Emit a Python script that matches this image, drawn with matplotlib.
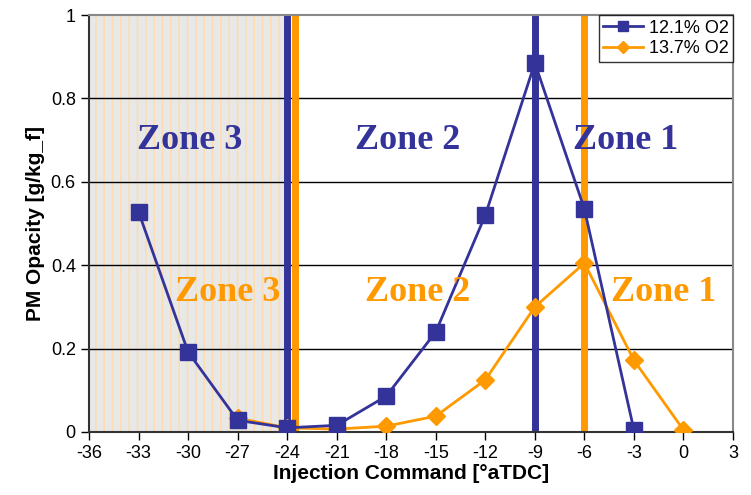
import matplotlib
matplotlib.use("Agg")
import matplotlib.pyplot as plt
from matplotlib import font_manager

# Données
inj_121 = [-33, -30, -27, -24, -21, -18, -15, -12, -9, -6, -3]
pm_121 = [0.528, 0.192, 0.028, 0.01, 0.016, 0.086, 0.24, 0.52, 0.885, 0.535, 0.005]
inj_137 = [-27, -24, -21, -18, -15, -12, -9, -6, -3, 0]
pm_137 = [0.033, 0.01, 0.007, 0.014, 0.038, 0.125, 0.3, 0.405, 0.172, 0.005]

zone_lines_121 = [-24, -9]
zone_lines_137 = [-23.5, -6]
zone_labels = ["Zone 3", "Zone 2", "Zone 1"]
zone_x_121 = [-29.9, -16.7, -3.5]
zone_x_137 = [-27.6, -16.1, -1.2]

BLUE = "#333399"
ORANGE = "#FF9900"

names = {f.name for f in font_manager.fontManager.ttflist}
label_font = "Liberation Sans Narrow" if "Liberation Sans Narrow" in names else "Liberation Sans"
plt.rcParams["font.family"] = ["Liberation Sans", "DejaVu Sans"]
plt.rcParams["axes.unicode_minus"] = False
plt.rcParams["hatch.color"] = "#FDDDB0"
plt.rcParams["hatch.linewidth"] = 1.2

fig = plt.figure(figsize=(7.51, 4.95), dpi=100)
ax = fig.add_axes([89 / 751, 1 - 432 / 495, (733 - 89) / 751, (432 - 15) / 495])

ax.set_xlim(-36, 3)
ax.set_ylim(0, 1)

# zone ombrée
ax.axvspan(-36, -24, facecolor="#E8E8E8", edgecolor="#FDDDB0", hatch="||", linewidth=0, zorder=0)

for yv in [0.2, 0.4, 0.6, 0.8]:
    ax.axhline(yv, color="black", linewidth=1, zorder=1)

for xv in zone_lines_121:
    ax.axvline(xv, color=BLUE, linewidth=5, zorder=2)
for xv in zone_lines_137:
    ax.axvline(xv, color=ORANGE, linewidth=5, zorder=2)

ax.plot(inj_121, pm_121, color=BLUE, marker="s", markersize=11, linewidth=2, label="12.1% O2", zorder=4)
ax.plot(inj_137, pm_137, color=ORANGE, marker="D", markersize=9, linewidth=2, label="13.7% O2", zorder=3)

for lab, xv in zip(zone_labels, zone_x_121):
    ax.text(xv, 0.70, lab, color=BLUE, fontsize=26, fontweight="bold",
            family="Liberation Serif", ha="center", va="center", zorder=5)
for lab, xv in zip(zone_labels, zone_x_137):
    ax.text(xv, 0.335, lab, color=ORANGE, fontsize=26, fontweight="bold",
            family="Liberation Serif", ha="center", va="center", zorder=5)

ax.set_xticks(range(-36, 4, 3))
ax.set_yticks([0, 0.2, 0.4, 0.6, 0.8, 1])
ax.set_yticklabels(["0", "0.2", "0.4", "0.6", "0.8", "1"])
ax.tick_params(labelsize=13, length=6, width=1)

ax.set_xlabel("Injection Command [°aTDC]", fontsize=15, fontweight="bold", family=label_font, labelpad=1)
ax.set_ylabel("PM Opacity [g/kg_f]", fontsize=15, fontweight="bold", family=label_font, labelpad=4)

for side in ["left", "bottom"]:
    ax.spines[side].set_color("#333333")
    ax.spines[side].set_linewidth(1.5)
for side in ["top", "right"]:
    ax.spines[side].set_color("#888888")
    ax.spines[side].set_linewidth(1.5)

leg = ax.legend(loc="upper right", fontsize=13, frameon=True, fancybox=False,
                borderaxespad=0.0, handlelength=2.2, labelspacing=0.2, borderpad=0.25,
                handletextpad=0.3, markerscale=0.7)
leg.get_frame().set_edgecolor("black")
leg.get_frame().set_linewidth(1)
leg.set_zorder(10)

plt.savefig("out.png", dpi=100)
plt.close()
